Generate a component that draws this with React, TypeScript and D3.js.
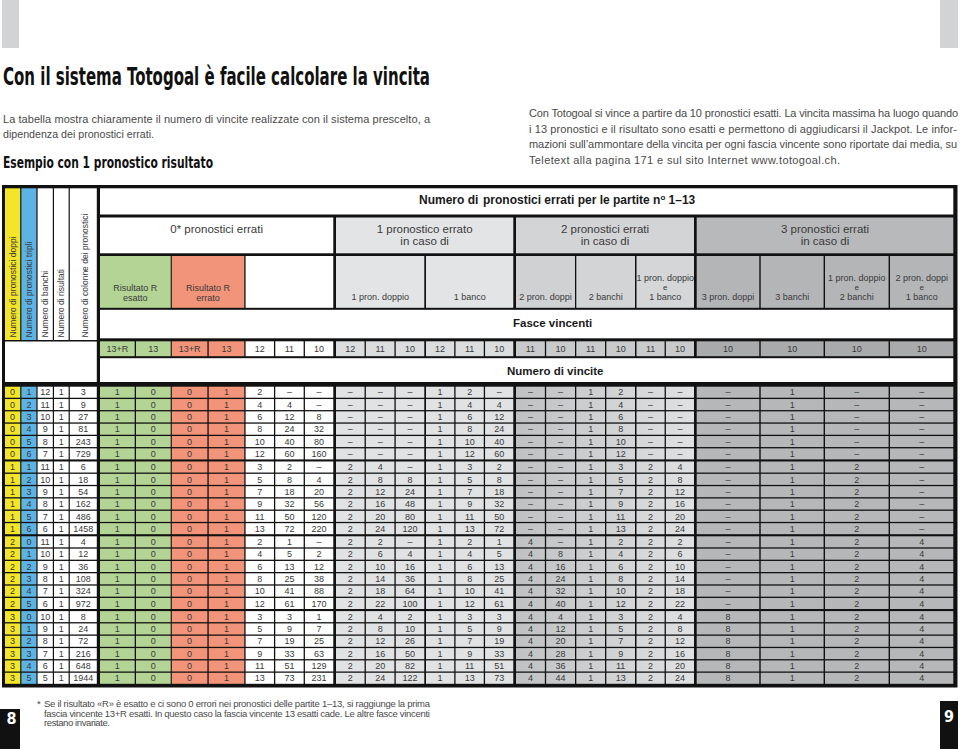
import React from 'react';
import * as d3 from 'd3';

// ---------- DATA ----------
const pronosticiDoppi = [0, 0, 0, 0, 0, 0, 1, 1, 1, 1, 1, 1, 2, 2, 2, 2, 2, 2, 3, 3, 3, 3, 3, 3];
const pronosticiTripli = [1, 2, 3, 4, 5, 6, 1, 2, 3, 4, 5, 6, 0, 1, 2, 3, 4, 5, 0, 1, 2, 3, 4, 5];
const numeroBanchi = [12, 11, 10, 9, 8, 7, 11, 10, 9, 8, 7, 6, 11, 10, 9, 8, 7, 6, 10, 9, 8, 7, 6, 5];
const numeroRisultati = [1, 1, 1, 1, 1, 1, 1, 1, 1, 1, 1, 1, 1, 1, 1, 1, 1, 1, 1, 1, 1, 1, 1, 1];
const numeroColonne = [3, 9, 27, 81, 243, 729, 6, 18, 54, 162, 486, 1458, 4, 12, 36, 108, 324, 972, 8, 24, 72, 216, 648, 1944];

const fasceVincenti = ['13+R', '13', '13+R', '13', '12', '11', '10', '12', '11', '10', '12', '11', '10', '11', '10', '11', '10', '11', '10', '10', '10', '10', '10'];

// 0 errori: R esatto (13+R, 13), R errato (13+R, 13), 12, 11, 10
const vinciteZeroErrori = [
  ['1', '0', '0', '1', '2', '–', '–'],
  ['1', '0', '0', '1', '4', '4', '–'],
  ['1', '0', '0', '1', '6', '12', '8'],
  ['1', '0', '0', '1', '8', '24', '32'],
  ['1', '0', '0', '1', '10', '40', '80'],
  ['1', '0', '0', '1', '12', '60', '160'],
  ['1', '0', '0', '1', '3', '2', '–'],
  ['1', '0', '0', '1', '5', '8', '4'],
  ['1', '0', '0', '1', '7', '18', '20'],
  ['1', '0', '0', '1', '9', '32', '56'],
  ['1', '0', '0', '1', '11', '50', '120'],
  ['1', '0', '0', '1', '13', '72', '220'],
  ['1', '0', '0', '1', '2', '1', '–'],
  ['1', '0', '0', '1', '4', '5', '2'],
  ['1', '0', '0', '1', '6', '13', '12'],
  ['1', '0', '0', '1', '8', '25', '38'],
  ['1', '0', '0', '1', '10', '41', '88'],
  ['1', '0', '0', '1', '12', '61', '170'],
  ['1', '0', '0', '1', '3', '3', '1'],
  ['1', '0', '0', '1', '5', '9', '7'],
  ['1', '0', '0', '1', '7', '19', '25'],
  ['1', '0', '0', '1', '9', '33', '63'],
  ['1', '0', '0', '1', '11', '51', '129'],
  ['1', '0', '0', '1', '13', '73', '231'],
];

// 1 errore: 1 pron. doppio (12, 11, 10), 1 banco (12, 11, 10)
const vinciteUnErrore = [
  ['–', '–', '–', '1', '2', '–'],
  ['–', '–', '–', '1', '4', '4'],
  ['–', '–', '–', '1', '6', '12'],
  ['–', '–', '–', '1', '8', '24'],
  ['–', '–', '–', '1', '10', '40'],
  ['–', '–', '–', '1', '12', '60'],
  ['2', '4', '–', '1', '3', '2'],
  ['2', '8', '8', '1', '5', '8'],
  ['2', '12', '24', '1', '7', '18'],
  ['2', '16', '48', '1', '9', '32'],
  ['2', '20', '80', '1', '11', '50'],
  ['2', '24', '120', '1', '13', '72'],
  ['2', '2', '–', '1', '2', '1'],
  ['2', '6', '4', '1', '4', '5'],
  ['2', '10', '16', '1', '6', '13'],
  ['2', '14', '36', '1', '8', '25'],
  ['2', '18', '64', '1', '10', '41'],
  ['2', '22', '100', '1', '12', '61'],
  ['2', '4', '2', '1', '3', '3'],
  ['2', '8', '10', '1', '5', '9'],
  ['2', '12', '26', '1', '7', '19'],
  ['2', '16', '50', '1', '9', '33'],
  ['2', '20', '82', '1', '11', '51'],
  ['2', '24', '122', '1', '13', '73'],
];

// 2 errori: 2 pron. doppi (11, 10), 2 banchi (11, 10), 1 pron. doppio e 1 banco (11, 10)
const vinciteDueErrori = [
  ['–', '–', '1', '2', '–', '–'],
  ['–', '–', '1', '4', '–', '–'],
  ['–', '–', '1', '6', '–', '–'],
  ['–', '–', '1', '8', '–', '–'],
  ['–', '–', '1', '10', '–', '–'],
  ['–', '–', '1', '12', '–', '–'],
  ['–', '–', '1', '3', '2', '4'],
  ['–', '–', '1', '5', '2', '8'],
  ['–', '–', '1', '7', '2', '12'],
  ['–', '–', '1', '9', '2', '16'],
  ['–', '–', '1', '11', '2', '20'],
  ['–', '–', '1', '13', '2', '24'],
  ['4', '–', '1', '2', '2', '2'],
  ['4', '8', '1', '4', '2', '6'],
  ['4', '16', '1', '6', '2', '10'],
  ['4', '24', '1', '8', '2', '14'],
  ['4', '32', '1', '10', '2', '18'],
  ['4', '40', '1', '12', '2', '22'],
  ['4', '4', '1', '3', '2', '4'],
  ['4', '12', '1', '5', '2', '8'],
  ['4', '20', '1', '7', '2', '12'],
  ['4', '28', '1', '9', '2', '16'],
  ['4', '36', '1', '11', '2', '20'],
  ['4', '44', '1', '13', '2', '24'],
];

// 3 errori: 3 pron. doppi, 3 banchi, 1 pron. doppio e 2 banchi, 2 pron. doppi e 1 banco (10)
const vinciteTreErrori = [
  ['–', '1', '–', '–'], ['–', '1', '–', '–'], ['–', '1', '–', '–'],
  ['–', '1', '–', '–'], ['–', '1', '–', '–'], ['–', '1', '–', '–'],
  ['–', '1', '2', '–'], ['–', '1', '2', '–'], ['–', '1', '2', '–'],
  ['–', '1', '2', '–'], ['–', '1', '2', '–'], ['–', '1', '2', '–'],
  ['–', '1', '2', '4'], ['–', '1', '2', '4'], ['–', '1', '2', '4'],
  ['–', '1', '2', '4'], ['–', '1', '2', '4'], ['–', '1', '2', '4'],
  ['8', '1', '2', '4'], ['8', '1', '2', '4'], ['8', '1', '2', '4'],
  ['8', '1', '2', '4'], ['8', '1', '2', '4'], ['8', '1', '2', '4'],
];

const leftHeaders = [
  'Numero di pronostici doppi',
  'Numero di pronostici tripli',
  'Numero di banchi',
  'Numero di risultati',
  'Numero di colonne dei pronostici',
];

const groupHeaders = [
  ['0* pronostici errati'],
  ['1 pronostico errato', 'in caso di'],
  ['2 pronostici errati', 'in caso di'],
  ['3 pronostici errati', 'in caso di'],
];

const subHeaders = [
  ['Risultato R', 'esatto'],
  ['Risultato R', 'errato'],
  [],
  ['1 pron. doppio'],
  ['1 banco'],
  ['2 pron. doppi'],
  ['2 banchi'],
  ['1 pron. doppio', 'e', '1 banco'],
  ['3 pron. doppi'],
  ['3 banchi'],
  ['1 pron. doppio', 'e', '2 banchi'],
  ['2 pron. doppi', 'e', '1 banco'],
];

// ---------- STYLE / LAYOUT ----------
const FONT = "'Liberation Sans', Arial, Helvetica, sans-serif";
const COND = "'Liberation Sans Narrow', 'DejaVu Sans Condensed', 'Roboto Condensed', 'Liberation Sans', sans-serif";
const YELLOW = '#f3e52a';
const BLUE = '#5db4e4';
const GREEN = '#b3d495';
const SALMON = '#f29479';
const G1 = '#e3e4e5';
const G2 = '#d3d4d6';
const G3 = '#b8b9bb';
const TXT = '#3a3a3a';

type Sub = { x0: number; x1: number; n: number; fill: string; band: string; head: string; data: string };
const subgroups: Sub[] = [
  { x0: 100, x1: 170.7, n: 2, fill: GREEN, band: GREEN, head: GREEN, data: GREEN },
  { x0: 171.8, x1: 244.3, n: 2, fill: SALMON, band: SALMON, head: SALMON, data: SALMON },
  { x0: 245.6, x1: 333.3, n: 3, fill: '#fff', band: '#fff', head: '#fff', data: '#fff' },
  { x0: 336, x1: 424.3, n: 3, fill: G1, band: '#dcdddf', head: G1, data: '#e1e2e3' },
  { x0: 426, x1: 513.3, n: 3, fill: G1, band: '#dcdddf', head: G1, data: '#e1e2e3' },
  { x0: 516, x1: 575, n: 2, fill: G2, band: '#c9cacc', head: '#d0d1d3', data: 'url(#g2grad)' },
  { x0: 576.3, x1: 635, n: 2, fill: G2, band: '#c9cacc', head: '#d3d4d6', data: 'url(#g2grad)' },
  { x0: 636.5, x1: 694, n: 2, fill: G2, band: '#c9cacc', head: '#d5d6d8', data: 'url(#g2grad)' },
  { x0: 696.7, x1: 759.3, n: 1, fill: G3, band: '#a9aaac', head: '#b4b5b7', data: '#b6b7b9' },
  { x0: 760.7, x1: 823.6, n: 1, fill: G3, band: '#a9aaac', head: '#b4b5b7', data: '#b6b7b9' },
  { x0: 825, x1: 888.6, n: 1, fill: G3, band: '#a9aaac', head: '#b4b5b7', data: '#b6b7b9' },
  { x0: 890, x1: 953.3, n: 1, fill: G3, band: '#a9aaac', head: '#b4b5b7', data: '#b6b7b9' },
];
const groupRanges = [
  { x0: 100, x1: 333.3, fill: '#fff' },
  { x0: 336, x1: 513.3, fill: G1 },
  { x0: 516, x1: 694, fill: G2 },
  { x0: 696.7, x1: 953.3, fill: G3 },
];
const leftCols = [
  { x0: 5, x1: 20.2, fill: YELLOW },
  { x0: 21.4, x1: 36.4, fill: BLUE },
  { x0: 37.6, x1: 52.8, fill: '#fff' },
  { x0: 54, x1: 68.6, fill: '#fff' },
  { x0: 69.8, x1: 96.8, fill: '#fff' },
];

const GAP = 1.3;
const columns = subgroups.flatMap((s) => {
  const x = d3.scaleBand<number>().domain(d3.range(s.n)).range([s.x0, s.x1 + GAP]).paddingInner(0);
  return d3.range(s.n).map((i) => ({ x0: x(i)!, x1: x(i)! + x.bandwidth() - GAP, sub: s }));
});

const rowsData = d3.range(24).map((i) => [
  ...vinciteZeroErrori[i],
  ...vinciteUnErrore[i],
  ...vinciteDueErrori[i],
  ...vinciteTreErrori[i],
]);
const leftData = d3.range(24).map((i) => [
  pronosticiDoppi[i], pronosticiTripli[i], numeroBanchi[i], numeroRisultati[i], numeroColonne[i],
]);

const groupY = d3.scaleLinear().domain([0, 1]).range([386.7, 461.5]);
const rowBand = d3.scaleBand<number>().domain(d3.range(6)).range([0, 72.7]).paddingInner(0.105);

function Cell({ x0, x1, y0, y1, fill }: { x0: number; x1: number; y0: number; y1: number; fill: string }) {
  return <rect x={x0} y={y0} width={x1 - x0} height={y1 - y0} fill={fill} />;
}

export default function App() {
  const rowY = (i: number) => groupY(Math.floor(i / 6)) + rowBand(i % 6)!;
  const rh = rowBand.bandwidth();

  return (
    <svg width={960} height={749} style={{ position: 'absolute', left: 0, top: 0, background: '#fff' }} fontFamily={FONT}>
      <defs>
        <linearGradient id="g2grad" gradientUnits="userSpaceOnUse" x1={516} x2={694} y1={0} y2={0}>
          <stop offset="0" stopColor="#c0c1c3" />
          <stop offset="1" stopColor="#e0e1e2" />
        </linearGradient>
      </defs>

      {/* decorative top bars */}
      <rect x={2} y={0} width={17} height={48} fill="#d1d3d4" />
      <rect x={940} y={0} width={18} height={48} fill="#d1d3d4" />

      {/* Title */}
      <text x={3} y={85} fontSize={25} fontWeight={700} fontFamily={COND} fill="#111" textLength={427} lengthAdjust="spacingAndGlyphs">
        Con il sistema Totogoal è facile calcolare la vincita
      </text>
      <text x={3} y={122.5} fontSize={11} fill="#4a4a4a" textLength={427} lengthAdjust="spacing">
        La tabella mostra chiaramente il numero di vincite realizzate con il sistema prescelto, a
      </text>
      <text x={3} y={137.5} fontSize={11} fill="#4a4a4a" textLength={151} lengthAdjust="spacingAndGlyphs">
        dipendenza dei pronostici errati.
      </text>
      <text x={3} y={168} fontSize={15.5} fontWeight={700} fontFamily={COND} fill="#111" textLength={210} lengthAdjust="spacingAndGlyphs">
        Esempio con 1 pronostico risultato
      </text>

      {[
        ['Con Totogoal si vince a partire da 10 pronostici esatti. La vincita massima ha luogo quando', 429],
        ['i 13 pronostici e il risultato sono esatti e permettono di aggiudicarsi il Jackpot. Le infor-', 428],
        ['mazioni sull’ammontare della vincita per ogni fascia vincente sono riportate dai media, su', 428],
        ['Teletext alla pagina 171 e sul sito Internet www.totogoal.ch.', 311],
      ].map(([t, w], i) => (
        <text key={i} x={529} y={117.3 + i * 15.5} fontSize={11} fill="#4a4a4a" textLength={w as number} lengthAdjust="spacing">
          {t}
        </text>
      ))}

      {/* Table frame (black background; cells leave black lines) */}
      <rect x={2} y={185} width={955.5} height={502.5} fill="#111" />

      {/* Left header rotated labels */}
      {leftCols.map((c, i) => (
        <g key={'lh' + i}>
          <Cell x0={c.x0} x1={c.x1} y0={188.3} y1={340} fill={c.fill} />
          <text
            transform={`translate(${(c.x0 + c.x1) / 2 + (i === 4 ? 2 : 0)},337.5) rotate(-90)`}
            dy="0.35em"
            fontSize={8.5}
            fill={TXT}
          >
            {leftHeaders[i]}
          </text>
        </g>
      ))}
      <Cell x0={5} x1={96.8} y0={341.5} y1={382} fill="#fff" />

      {/* Right header row 1 */}
      <Cell x0={100} x1={953.3} y0={188.3} y1={214.5} fill="#fff" />
      <text x={419} y={203.5} fontSize={12} fontWeight={700} fill="#1a1a1a">Numero di</text>
      <text x={483} y={203.5} fontSize={12} fontWeight={700} fill="#1a1a1a">
        pronostici errati per le partite n<tspan fontSize={8} dy={-3.5}>o</tspan>
        <tspan dy={3.5}> 1–13</tspan>
      </text>

      {/* Row 2 group headers */}
      {groupRanges.map((g, i) => (
        <g key={'gh' + i}>
          <Cell x0={g.x0} x1={g.x1} y0={217.5} y1={253.3} fill={g.fill} />
          {groupHeaders[i].map((t, j) => (
            <text key={j} x={(g.x0 + g.x1) / 2} y={233 + j * 12} textAnchor="middle" fontSize={11.5} fill={TXT}>
              {t}
            </text>
          ))}
        </g>
      ))}

      {/* Row 3 sub headers */}
      {subgroups.map((s, i) => {
        const lines = subHeaders[i];
        const isRisultato = i < 2;
        return (
          <g key={'sh' + i}>
            <Cell x0={s.x0} x1={s.x1} y0={256} y1={307.8} fill={s.head} />
            {lines.map((t, j) => {
              const y = isRisultato ? 290.5 + j * 10 : 299.5 - (lines.length - 1 - j) * 9.4;
              return (
                <text key={j} x={(s.x0 + s.x1) / 2} y={y} textAnchor="middle" fontSize={t === 'e' ? 8 : 9} fill={TXT}>
                  {t}
                </text>
              );
            })}
          </g>
        );
      })}

      {/* Row 4 Fasce vincenti */}
      <Cell x0={100} x1={953.3} y0={309.8} y1={338.3} fill="#fff" />
      <text x={513} y={326.5} fontSize={11.5} fontWeight={700} fill="#1a1a1a">Fasce vincenti</text>

      {/* Row 5 band labels */}
      {columns.map((c, i) => (
        <g key={'bd' + i}>
          <Cell x0={c.x0} x1={c.x1} y0={341.3} y1={356.2} fill={c.sub.band} />
          <text x={(c.x0 + c.x1) / 2} y={352} textAnchor="middle" fontSize={9} fill={TXT}>
            {fasceVincenti[i]}
          </text>
        </g>
      ))}

      {/* Row 6 Numero di vincite */}
      <Cell x0={100} x1={953.3} y0={358.2} y1={382} fill="#fff" />
      <text x={507} y={374.5} fontSize={11.5} fontWeight={700} fill="#1a1a1a">Numero di vincite</text>

      {/* Data rows */}
      {d3.range(24).map((r) => {
        const y0 = rowY(r);
        const cy = y0 + rh / 2 + 3.2;
        return (
          <g key={'row' + r}>
            {leftCols.map((c, j) => (
              <g key={'l' + j}>
                <Cell x0={c.x0} x1={c.x1} y0={y0} y1={y0 + rh} fill={c.fill} />
                <text x={(c.x0 + c.x1) / 2} y={cy} textAnchor="middle" fontSize={9} fill={TXT}>
                  {leftData[r][j]}
                </text>
              </g>
            ))}
            {columns.map((c, j) => (
              <g key={'c' + j}>
                <Cell x0={c.x0} x1={c.x1} y0={y0} y1={y0 + rh} fill={c.sub.data} />
                <text x={(c.x0 + c.x1) / 2} y={cy} textAnchor="middle" fontSize={9} fill={TXT}>
                  {rowsData[r][j]}
                </text>
              </g>
            ))}
          </g>
        );
      })}

      {/* Footnote */}
      <text x={37} y={707.3} fontSize={9.5} fill="#4a4a4a">*</text>
      {[
        ['Se il risultato «R» è esatto e ci sono 0 errori nei pronostici delle partite 1–13, si raggiunge la prima', 386],
        ['fascia vincente 13+R esatti. In questo caso la fascia vincente 13 esatti cade. Le altre fasce vincenti', 386],
        ['restano invariate.', 66],
      ].map(([t, w], i) => (
        <text key={'fn' + i} x={44} y={707.3 + i * 9.2} fontSize={9.5} fill="#4a4a4a" textLength={w as number} lengthAdjust="spacing">
          {t}
        </text>
      ))}

      {/* Page numbers */}
      <rect x={0} y={709} width={20} height={40} fill="#111" />
      <text x={11.5} y={723.5} textAnchor="middle" fontSize={16} fontWeight={700} fontFamily={COND} fill="#fff">8</text>
      <rect x={940} y={701} width={18} height={48} fill="#111" />
      <text x={949} y={721.8} textAnchor="middle" fontSize={16} fontWeight={700} fontFamily={COND} fill="#fff">9</text>
    </svg>
  );
}
